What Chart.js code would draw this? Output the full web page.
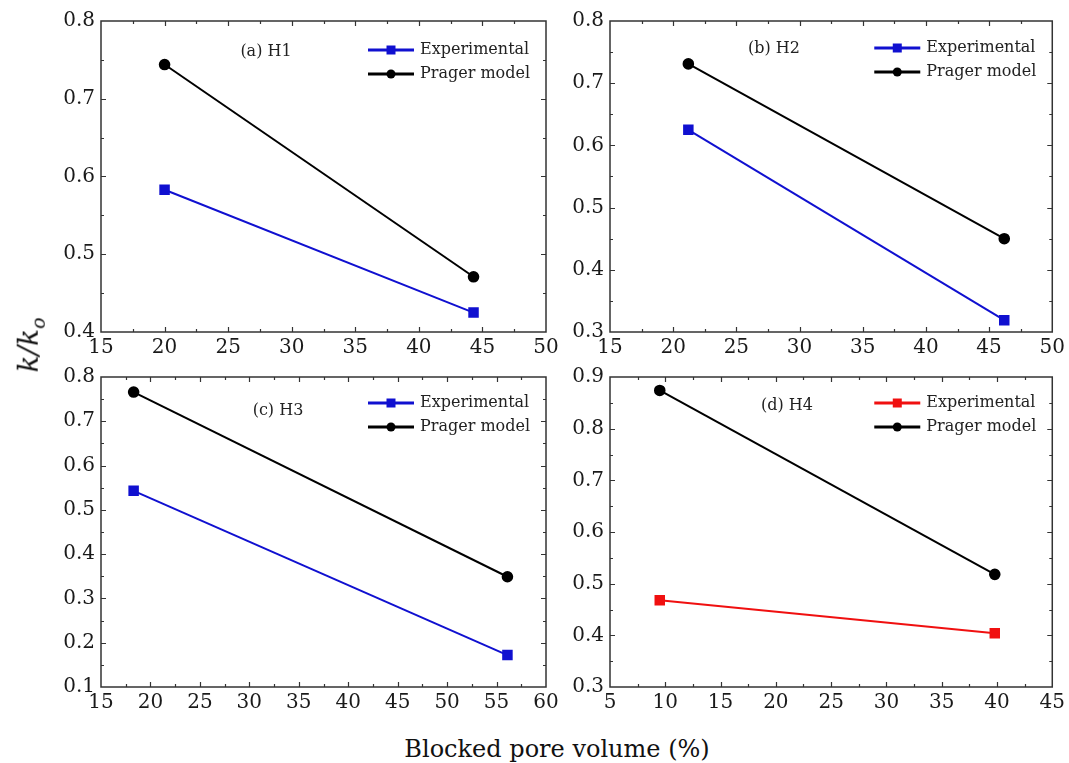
<!DOCTYPE html>
<html>
<head>
<meta charset="utf-8">
<script src="https://cdn.jsdelivr.net/npm/chart.js@4.4.0/dist/chart.umd.min.js"></script>
<style>
  body { margin: 0; background: #fff; overflow: hidden; }
  #page { position: relative; width: 1069px; height: 763px; }
  canvas { position: absolute; }
  .title { position: absolute; white-space: nowrap; color: #111; font-family: 'DejaVu Serif', serif; }
</style>
</head>
<body>
<div id="page">
  <canvas id="chartA" width="570" height="365" style="left:0px;top:0px"></canvas>
  <canvas id="chartB" width="560" height="365" style="left:509px;top:0px"></canvas>
  <canvas id="chartC" width="570" height="364" style="left:0px;top:356px"></canvas>
  <canvas id="chartD" width="560" height="364" style="left:509px;top:356px"></canvas>
  <div class="title" style="left:30px;top:345px;transform:translate(-50%,-50%) rotate(-90deg);font-size:28px;font-style:italic">k/k<sub style="font-size:19px">o</sub></div>
  <div class="title" style="left:557px;top:749px;transform:translate(-50%,-50%);font-size:24px">Blocked pore volume (%)</div>
</div>
<script>
// valores
var seriesNames = ['Experimental', 'Prager model']

var xA = [20.0, 44.3]
var expA = [0.583, 0.425]
var pragerA = [0.744, 0.471]

var xB = [21.2, 46.2]
var expB = [0.625, 0.319]
var pragerB = [0.731, 0.450]

var xC = [18.3, 56.1]
var expC = [0.543, 0.172]
var pragerC = [0.766, 0.349]

var xD = [9.5, 39.8]
var expD = [0.468, 0.404]
var pragerD = [0.874, 0.518]

// limites dos eixos [min, max, passo]
var xTicksA = [15, 50, 5], yTicksA = [0.4, 0.8, 0.1]
var xTicksB = [15, 50, 5], yTicksB = [0.3, 0.8, 0.1]
var xTicksC = [15, 60, 5], yTicksC = [0.1, 0.8, 0.1]
var xTicksD = [5, 45, 5], yTicksD = [0.3, 0.9, 0.1]

var panelLabels = ['(a) H1', '(b) H2', '(c) H3', '(d) H4']

var FONT = '"DejaVu Serif", "Liberation Serif", serif'
Chart.defaults.font.family = FONT
Chart.defaults.color = '#1a1a1a'

/** moldura, ticks para dentro, legenda e rotulo do painel */
var panelDecor = {
  id: 'panelDecor',
  afterDatasetsDraw: function(chart, args, opts){
    var ctx = chart.ctx
    var area = chart.chartArea
    var xs = chart.scales.x
    var ys = chart.scales.y
    ctx.save()
    ctx.strokeStyle = '#333'
    ctx.lineWidth = 1.2
    ctx.beginPath()
    // ticks do eixo x (major + minor)
    var nx = Math.round((xs.max - xs.min) / (opts.xStep / 2))
    for (var i = 1; i < nx; i++){
      var px = Math.round(xs.getPixelForValue(xs.min + i * opts.xStep / 2)) + 0.5
      var len = i % 2 == 0 ? 5 : 3
      ctx.moveTo(px, area.bottom); ctx.lineTo(px, area.bottom - len)
      ctx.moveTo(px, area.top); ctx.lineTo(px, area.top + len)
    }
    // ticks do eixo y
    var ny = Math.round((ys.max - ys.min) / (opts.yStep / 2))
    for (var j = 1; j < ny; j++){
      var py = Math.round(ys.getPixelForValue(ys.min + j * opts.yStep / 2)) + 0.5
      var len2 = j % 2 == 0 ? 5 : 3
      ctx.moveTo(area.left, py); ctx.lineTo(area.left + len2, py)
      ctx.moveTo(area.right, py); ctx.lineTo(area.right - len2, py)
    }
    ctx.stroke()
    ctx.lineWidth = 1.5
    ctx.strokeRect(area.left, area.top, area.right - area.left, area.bottom - area.top)

    // rotulo do painel
    ctx.fillStyle = '#222'
    ctx.font = '16px ' + FONT
    ctx.textAlign = 'center'
    ctx.textBaseline = 'middle'
    ctx.fillText(opts.label, area.left + opts.labelDx, area.top + opts.labelDy)

    // legenda
    chart.data.datasets.forEach(function(ds, k){
      var y = area.top + opts.legendDy + k * 24
      var x0 = area.right - 178
      var x1 = area.right - 132
      var xm = (x0 + x1) / 2
      ctx.strokeStyle = ds.borderColor
      ctx.lineWidth = 3
      ctx.beginPath()
      ctx.moveTo(x0, y); ctx.lineTo(x1, y)
      ctx.stroke()
      ctx.fillStyle = ds.borderColor
      ctx.beginPath()
      if (ds.pointStyle == 'rect'){
        ctx.rect(xm - 4.5, y - 4.5, 9, 9)
      } else {
        ctx.arc(xm, y, 4.5, 0, Math.PI * 2)
      }
      ctx.fill()
      ctx.fillStyle = '#222'
      ctx.textAlign = 'left'
      ctx.font = '16px ' + FONT
      ctx.fillText(ds.label, area.right - 126, y)
    })
    ctx.restore()
  }
}

function toPoints(xs, ys){
  var pts = []
  for (var i = 0; i < xs.length; i++){
    pts.push({x: xs[i], y: ys[i]})
  }
  return pts
}

function makePanel(id, xs, expY, pragerY, expColor, xTicks, yTicks, label, decor, padRight){
  var data = {
    datasets: [{
      label: seriesNames[0],
      data: toPoints(xs, expY),
      borderColor: expColor,
      backgroundColor: expColor,
      borderWidth: 2,
      pointStyle: 'rect',
      pointRadius: 6,
      showLine: true
    }, {
      label: seriesNames[1],
      data: toPoints(xs, pragerY),
      borderColor: '#000',
      backgroundColor: '#000',
      borderWidth: 2,
      pointStyle: 'circle',
      pointRadius: 4.8,
      showLine: true
    }]
  }
  var options = {
    responsive: false,
    animation: false,
    layout: { padding: { top: 21, right: padRight, bottom: 0, left: 0 } },
    plugins: {
      legend: { display: false },
      tooltip: { enabled: false },
      panelDecor: {
        xStep: xTicks[2], yStep: yTicks[2], label: label,
        labelDx: decor[0], labelDy: decor[1], legendDy: decor[2]
      }
    },
    scales: {
      x: {
        type: 'linear',
        min: xTicks[0], max: xTicks[1],
        border: { display: false },
        grid: { display: false, drawTicks: false },
        ticks: { stepSize: xTicks[2], padding: 4, color: '#1a1a1a', font: { family: FONT, size: 20 }, maxRotation: 0 },
        afterFit: function(scale){ scale.height = 33 }
      },
      y: {
        min: yTicks[0], max: yTicks[1],
        border: { display: false },
        grid: { display: false, drawTicks: false },
        ticks: {
          stepSize: yTicks[2], padding: 6, color: '#1a1a1a', font: { family: FONT, size: 20 },
          callback: function(v){ return v.toFixed(1) }
        },
        afterFit: function(scale){ scale.width = 101 }
      }
    }
  }
  return new Chart(id, { type: 'scatter', data: data, options: options, plugins: [panelDecor] })
}

var blue = '#1010d0'
var red = '#f01010'
var chartA, chartB, chartC, chartD

function drawAll(){
  chartA = makePanel('chartA', xA, expA, pragerA, blue, xTicksA, yTicksA, panelLabels[0], [165, 31, 29], 24)
  chartB = makePanel('chartB', xB, expB, pragerB, blue, xTicksB, yTicksB, panelLabels[1], [164, 28, 27], 14)
  chartC = makePanel('chartC', xC, expC, pragerC, blue, xTicksC, yTicksC, panelLabels[2], [177, 34, 26], 24)
  chartD = makePanel('chartD', xD, expD, pragerD, red, xTicksD, yTicksD, panelLabels[3], [177, 29, 26], 12)
}

// esperar pela fonte antes de desenhar no canvas
document.fonts.load('20px "DejaVu Serif"').then(drawAll, drawAll)
</script>
</body>
</html>
